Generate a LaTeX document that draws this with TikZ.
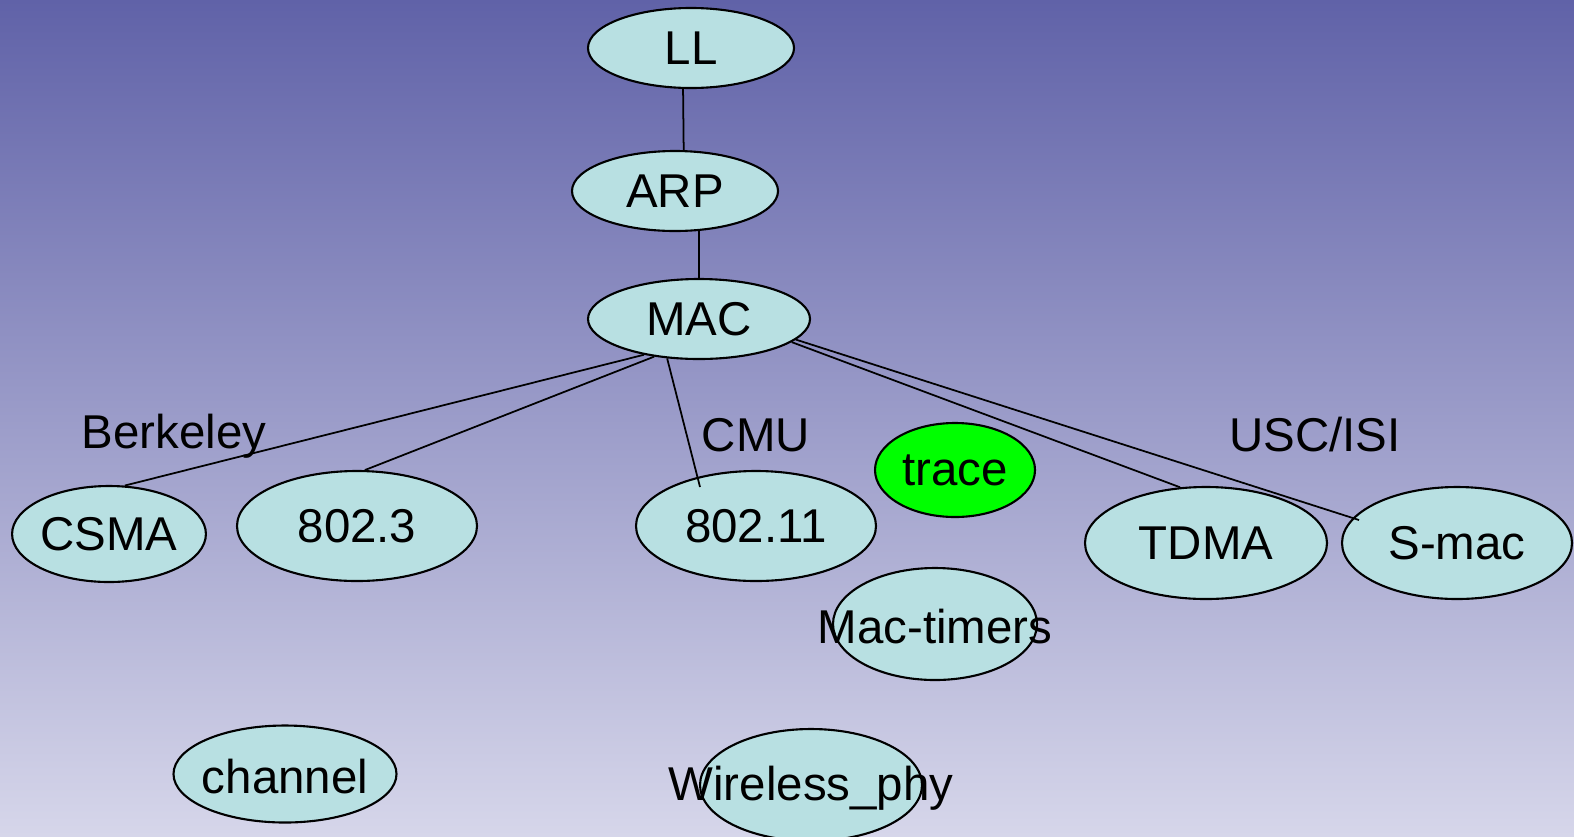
\documentclass[tikz,border=0pt]{standalone}
\usepackage{fontspec}
\setmainfont{Liberation Sans}
\usetikzlibrary{shapes,positioning,calc}
\definecolor{bgtop}{RGB}{96,98,168}
\definecolor{bgbottom}{RGB}{214,214,234}
\definecolor{layerfill}{RGB}{184,224,226}
\tikzset{
    auto, semithick,
    every edge/.style={draw, line width=0.5pt},
    layer/.style ={ellipse, draw, fill=layerfill, line width=0.6pt, inner sep=0pt},
    group/.style = {inner sep=0pt},
    free/.style = {layer, label={[yshift=-0.03cm]center:#1}}
}

\begin{document}
\begin{tikzpicture}[font=\fontsize{13.5}{16}\selectfont]
    \useasboundingbox (0,0) rectangle (15.74,8.36);
    \shade[top color=bgtop, bottom color=bgbottom] (0,0) rectangle (15.74,8.36);

    \node (ll) at (6.91,7.88) [layer, minimum width=2.06cm, minimum height=0.80cm] {LL};
    \node (arp) at (6.75,6.45) [layer, minimum width=2.06cm, minimum height=0.80cm] {ARP};
    \node (mac) at (6.99,5.17) [layer, minimum width=2.22cm, minimum height=0.80cm] {MAC};
    \node (csma) at (1.09,3.02) [layer, minimum width=1.90cm, minimum height=0.96cm] {CSMA};
		\node (eth) at (3.57,3.10) [layer, minimum width=2.40cm, minimum height=1.10cm] {802.3};
		\node (wifi) at (7.56,3.10) [layer, minimum width=2.40cm, minimum height=1.10cm] {802.11};
		\node (trace) at (9.55,3.66) [layer, fill=green, minimum width=1.60cm, minimum height=0.94cm] {trace};
		\node (timers) at (9.35,2.12) [free=Mac-timers, minimum width=2.04cm, minimum height=1.12cm] {};
		\node (tdma) at (12.06,2.93) [layer, minimum width=2.42cm, minimum height=1.12cm] {TDMA};
		\node (smac) at (14.57,2.93) [layer, minimum width=2.30cm, minimum height=1.12cm] {S-mac};
		\node (channel) at (2.85,0.62) [free=channel, minimum width=2.23cm, minimum height=0.97cm] {};
		\node (phy) at (8.11,0.51) [free=Wireless\_phy, minimum width=2.22cm, minimum height=1.12cm] {};

    \node (berkeley) at (1.74,4.00) [group] {Berkeley};
    \node (cmu) at (7.56,4.01) [group] {CMU};
    \node (usc) at (13.15,4.01) [group] {USC/ISI};

    \coordinate (wifiend) at (7.00,3.49);
    \coordinate (smacend) at (13.59,3.16);

    \path (ll.259) edge (arp.78);
		\path (arp.-59) edge (mac.north);
    \path (mac.213) edge (csma.72);
		\path (mac.220) edge (eth.82);
		\path (mac.231) edge (wifiend);
		\path (mac.-14) edge (tdma.115);
		\path (mac.-12) edge (smacend);
\end{tikzpicture}
\end{document}
